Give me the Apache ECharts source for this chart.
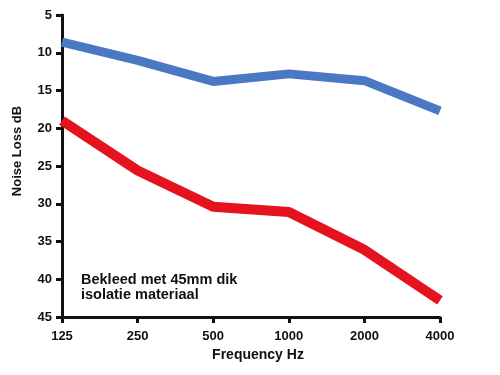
<!DOCTYPE html>
<html lang="nl">
<head>
    <meta charset="UTF-8">
    <title>Noise Loss</title>
    <script src="https://cdn.jsdelivr.net/npm/echarts@6/dist/echarts.min.js"></script>
    <style>
        body { margin: 0; padding: 0; background: #fff; }
        #main { width: 500px; height: 375px; }
    </style>
</head>
<body>
    <div id="main"></div>
    <script type="text/javascript">
        // frequencies (Hz)
        var frequencies = ['125', '250', '500', '1000', '2000', '4000'];
        // noise loss in dB
        var blueLoss = [8.6, 11, 13.8, 12.8, 13.7, 17.7];
        var redLoss = [19, 25.6, 30.4, 31.1, 36.1, 42.8];

        var myChart = echarts.init(document.getElementById('main'));

        var bold = {
            color: '#111',
            fontFamily: 'Liberation Sans',
            fontWeight: 'bold'
        };

        option = {
            backgroundColor: '#fff',
            animation: false,
            grid: { left: 62, right: 60, top: 15, bottom: 58 },
            xAxis: {
                type: 'category',
                data: frequencies,
                boundaryGap: false,
                name: 'Frequency Hz',
                nameLocation: 'middle',
                nameGap: 30,
                nameTextStyle: Object.assign({ fontSize: 14, padding: [0, 0, 0, 14] }, bold),
                axisLine: { lineStyle: { color: '#111', width: 3 } },
                axisTick: { alignWithLabel: true, length: 6, lineStyle: { color: '#111', width: 3 } },
                axisLabel: Object.assign({ fontSize: 13, margin: 13 }, bold),
                splitLine: { show: false }
            },
            yAxis: {
                type: 'value',
                inverse: true,
                min: 5,
                max: 45,
                interval: 5,
                name: 'Noise Loss dB',
                nameLocation: 'middle',
                nameGap: 38,
                nameRotate: 90,
                nameTextStyle: Object.assign({ fontSize: 13, padding: [0, 0, 0, 30] }, bold),
                axisLine: { show: true, lineStyle: { color: '#111', width: 3 } },
                axisTick: { show: true, length: 6, lineStyle: { color: '#111', width: 3 } },
                axisLabel: Object.assign({ fontSize: 13, margin: 10 }, bold),
                splitLine: { show: false }
            },
            graphic: [{
                type: 'text',
                left: 81,
                top: 272,
                style: {
                    text: 'Bekleed met 45mm dik\nisolatie materiaal',
                    font: 'bold 14.5px "Liberation Sans"',
                    fill: '#111',
                    lineHeight: 15
                }
            }],
            series: [{
                name: 'blauw',
                type: 'line',
                data: blueLoss,
                symbol: 'none',
                lineStyle: { color: '#4a78c2', width: 9 },
                z: 3
            }, {
                name: 'rood',
                type: 'line',
                data: redLoss,
                symbol: 'none',
                lineStyle: { color: '#e5121f', width: 10 },
                z: 3
            }]
        };
        myChart.setOption(option);
    </script>
</body>
</html>
